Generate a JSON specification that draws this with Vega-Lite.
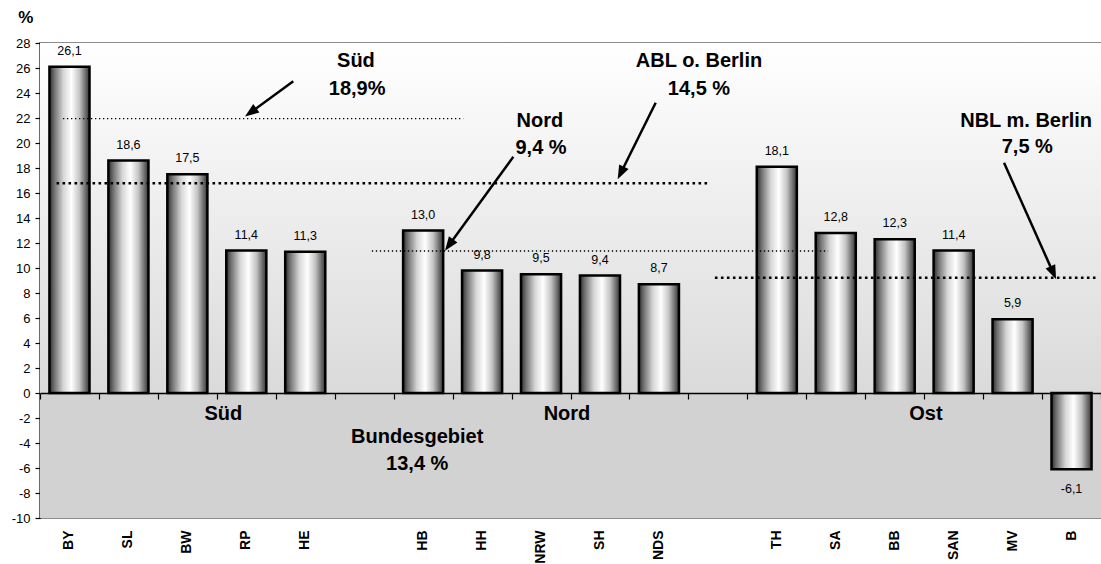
{
  "$schema": "https://vega.github.io/schema/vega-lite/v6.json",
  "width": 1061,
  "height": 475,
  "autosize": {"type": "none"},
  "padding": {"left": 40, "top": 43, "right": 0, "bottom": 46},
  "background": "white",
  "config": {
    "locale": {"number": {"decimal": ",", "thousands": ".", "grouping": [3], "currency": ["", " €"], "minus": "-"}},
    "font": "Liberation Sans, Arial, sans-serif",
    "view": {"stroke": "#8c8c8c", "strokeWidth": 2},
    "axisY": {"domainColor": "black", "domainWidth": 1.5, "tickColor": "black", "tickSize": 5, "tickWidth": 1.2, "labelFontSize": 13, "labelColor": "black", "labelFont": "Liberation Sans, Arial, sans-serif", "grid": false, "tickCount": 19, "labelPadding": 5, "zindex": 2}
  },
  "datasets": {
    "laender": [
      {"land": "BY", "wert": 26.1}, {"land": "SL", "wert": 18.6}, {"land": "BW", "wert": 17.5},
      {"land": "RP", "wert": 11.4}, {"land": "HE", "wert": 11.3}, {"land": "HB", "wert": 13.0},
      {"land": "HH", "wert": 9.8}, {"land": "NRW", "wert": 9.5}, {"land": "SH", "wert": 9.4},
      {"land": "NDS", "wert": 8.7}, {"land": "TH", "wert": 18.1}, {"land": "SA", "wert": 12.8},
      {"land": "BB", "wert": 12.3}, {"land": "SAN", "wert": 11.4}, {"land": "MV", "wert": 5.9},
      {"land": "B", "wert": -6.1}
    ],
    "linien_duenn": [
      {"gruppe": "Süd", "y": 21.95, "von": 0.39, "bis": 7.18},
      {"gruppe": "Nord", "y": 11.36, "von": 5.63, "bis": 13.37}
    ],
    "linien_dick": [
      {"gruppe": "ABL o. Berlin", "y": 16.78, "von": 0.28, "bis": 11.33},
      {"gruppe": "NBL m. Berlin", "y": 9.22, "von": 11.45, "bis": 17.95}
    ],
    "pfeile": [
      {"pfeil": "Süd", "x": 4.297, "y": 24.94, "kx": 3.574, "ky": 22.45},
      {"pfeil": "ABL", "x": 10.445, "y": 23.22, "kx": 9.853, "ky": 17.6},
      {"pfeil": "Nord", "x": 8.03, "y": 18.9, "kx": 6.94, "ky": 11.84},
      {"pfeil": "NBL", "x": 16.355, "y": 18.42, "kx": 17.19, "ky": 9.61}
    ],
    "texte": [
      {"t": "Süd", "x": 5.36, "y": 26.1},
      {"t": "18,9%", "x": 5.38, "y": 23.84},
      {"t": "ABL o. Berlin", "x": 11.18, "y": 26.1},
      {"t": "14,5 %", "x": 11.18, "y": 23.84},
      {"t": "Nord", "x": 8.48, "y": 21.28},
      {"t": "9,4 %", "x": 8.5, "y": 19.12},
      {"t": "NBL m. Berlin", "x": 16.73, "y": 21.28},
      {"t": "7,5 %", "x": 16.75, "y": 19.2},
      {"t": "Süd", "x": 3.11, "y": -2.16},
      {"t": "Nord", "x": 8.94, "y": -2.16},
      {"t": "Ost", "x": 15.03, "y": -2.16},
      {"t": "Bundesgebiet", "x": 6.4, "y": -4.0},
      {"t": "13,4 %", "x": 6.4, "y": -6.16}
    ]
  },
  "layer": [
    {
      "layer": [
        {
          "data": {"values": [{}]},
          "mark": {"type": "rect", "fill": {"gradient": "linear", "x1": 0, "y1": 0, "x2": 0, "y2": 1, "stops": [{"offset": 0, "color": "#ffffff"}, {"offset": 1, "color": "#dadada"}]}},
          "encoding": {
            "y": {"datum": 28, "type": "quantitative", "title": null, "scale": {"domain": [-10, 28], "nice": false, "zero": false}},
            "y2": {"datum": 0}
          }
        },
        {
          "data": {"values": [{}]},
          "mark": {"type": "rect", "fill": "#d2d2d2"},
          "encoding": {
            "y": {"datum": 0, "type": "quantitative", "title": null, "scale": {"domain": [-10, 28], "nice": false, "zero": false}},
            "y2": {"datum": -10}
          }
        },
        {
          "data": {"name": "laender"},
          "mark": {
            "type": "bar",
            "width": {"band": 0.68},
            "stroke": "black",
            "strokeWidth": 2.5,
            "fill": {"gradient": "linear", "x1": 0, "y1": 0, "x2": 1, "y2": 0, "stops": [
              {"offset": 0, "color": "#2e2e2e"}, {"offset": 0.12, "color": "#707070"}, {"offset": 0.35, "color": "#d6d6d6"},
              {"offset": 0.55, "color": "#ffffff"}, {"offset": 0.75, "color": "#c4c4c4"}, {"offset": 0.92, "color": "#626262"},
              {"offset": 1, "color": "#333333"}]}
          },
          "encoding": {
            "x": {
              "field": "land", "type": "nominal", "sort": null,
              "scale": {"domain": ["BY", "SL", "BW", "RP", "HE", " ", "HB", "HH", "NRW", "SH", "NDS", "  ", "TH", "SA", "BB", "SAN", "MV", "B"], "paddingInner": 0, "paddingOuter": 0},
              "axis": {"orient": "bottom", "labelAngle": 270, "labelFontSize": 14, "labelFontWeight": "bold", "labelColor": "black", "labelFont": "Liberation Sans, Arial, sans-serif", "ticks": false, "tickSize": 0, "domain": false, "labelPadding": 12, "title": null, "grid": false}
            },
            "y": {"field": "wert", "type": "quantitative", "title": null, "scale": {"domain": [-10, 28], "nice": false, "zero": false}}
          }
        },
        {
          "data": {"name": "laender"},
          "transform": [{"filter": "datum.wert >= 0"}],
          "mark": {"type": "text", "dy": -12, "baseline": "alphabetic", "fontSize": 12.5, "color": "black"},
          "encoding": {
            "x": {
              "field": "land", "type": "nominal", "sort": null,
              "axis": {"orient": "bottom", "offset": -125, "labels": false, "ticks": true, "tickBand": "extent", "tickSize": 6, "tickColor": "black", "tickWidth": 1.2, "domain": true, "domainColor": "black", "domainWidth": 1.5, "title": null, "grid": false, "zindex": 2}
            },
            "y": {"field": "wert", "type": "quantitative", "title": null, "scale": {"domain": [-10, 28], "nice": false, "zero": false}},
            "text": {"field": "wert", "type": "quantitative", "format": ".1f"}
          }
        },
        {
          "data": {"name": "laender"},
          "transform": [{"filter": "datum.wert < 0"}],
          "mark": {"type": "text", "dy": 23.5, "baseline": "alphabetic", "fontSize": 12.5, "color": "black"},
          "encoding": {
            "x": {"field": "land", "type": "nominal", "sort": null, "axis": null},
            "y": {"field": "wert", "type": "quantitative", "title": null, "scale": {"domain": [-10, 28], "nice": false, "zero": false}},
            "text": {"field": "wert", "type": "quantitative", "format": ".1f"}
          }
        }
      ],
      "resolve": {"axis": {"x": "independent"}}
    },
    {
      "layer": [
        {
          "data": {"name": "linien_duenn"},
          "mark": {"type": "rule", "color": "black", "strokeWidth": 1.3, "strokeDash": [1.3, 2.7]},
          "encoding": {
            "x": {"field": "von", "type": "quantitative", "axis": null, "scale": {"domain": [0, 18], "nice": false, "zero": false}},
            "x2": {"field": "bis"},
            "y": {"field": "y", "type": "quantitative", "title": null, "scale": {"domain": [-10, 28], "nice": false, "zero": false}}
          }
        },
        {
          "data": {"name": "linien_dick"},
          "mark": {"type": "rule", "color": "black", "strokeWidth": 2.6, "strokeDash": [2.6, 3.4]},
          "encoding": {
            "x": {"field": "von", "type": "quantitative", "axis": null, "scale": {"domain": [0, 18], "nice": false, "zero": false}},
            "x2": {"field": "bis"},
            "y": {"field": "y", "type": "quantitative", "title": null, "scale": {"domain": [-10, 28], "nice": false, "zero": false}}
          }
        },
        {
          "data": {"name": "pfeile"},
          "mark": {"type": "rule", "color": "black", "strokeWidth": 2.5},
          "encoding": {
            "x": {"field": "x", "type": "quantitative", "axis": null, "scale": {"domain": [0, 18], "nice": false, "zero": false}},
            "x2": {"field": "kx"},
            "y": {"field": "y", "type": "quantitative", "title": null, "scale": {"domain": [-10, 28], "nice": false, "zero": false}},
            "y2": {"field": "ky"}
          }
        },
        {
          "data": {"name": "pfeile"},
          "transform": [{"filter": "datum.pfeil == 'Süd'"}],
          "mark": {"type": "point", "shape": "M0,-1L-0.75,1L0.75,1Z", "size": 196, "filled": true, "color": "black", "opacity": 1, "angle": 233.9},
          "encoding": {
            "x": {"field": "kx", "type": "quantitative", "axis": null, "scale": {"domain": [0, 18], "nice": false, "zero": false}},
            "y": {"field": "ky", "type": "quantitative", "title": null, "scale": {"domain": [-10, 28], "nice": false, "zero": false}}
          }
        },
        {
          "data": {"name": "pfeile"},
          "transform": [{"filter": "datum.pfeil == 'ABL'"}],
          "mark": {"type": "point", "shape": "M0,-1L-0.75,1L0.75,1Z", "size": 196, "filled": true, "color": "black", "opacity": 1, "angle": 206.4},
          "encoding": {
            "x": {"field": "kx", "type": "quantitative", "axis": null, "scale": {"domain": [0, 18], "nice": false, "zero": false}},
            "y": {"field": "ky", "type": "quantitative", "title": null, "scale": {"domain": [-10, 28], "nice": false, "zero": false}}
          }
        },
        {
          "data": {"name": "pfeile"},
          "transform": [{"filter": "datum.pfeil == 'Nord'"}],
          "mark": {"type": "point", "shape": "M0,-1L-0.75,1L0.75,1Z", "size": 196, "filled": true, "color": "black", "opacity": 1, "angle": 216.0},
          "encoding": {
            "x": {"field": "kx", "type": "quantitative", "axis": null, "scale": {"domain": [0, 18], "nice": false, "zero": false}},
            "y": {"field": "ky", "type": "quantitative", "title": null, "scale": {"domain": [-10, 28], "nice": false, "zero": false}}
          }
        },
        {
          "data": {"name": "pfeile"},
          "transform": [{"filter": "datum.pfeil == 'NBL'"}],
          "mark": {"type": "point", "shape": "M0,-1L-0.75,1L0.75,1Z", "size": 196, "filled": true, "color": "black", "opacity": 1, "angle": 156.0},
          "encoding": {
            "x": {"field": "kx", "type": "quantitative", "axis": null, "scale": {"domain": [0, 18], "nice": false, "zero": false}},
            "y": {"field": "ky", "type": "quantitative", "title": null, "scale": {"domain": [-10, 28], "nice": false, "zero": false}}
          }
        },
        {
          "data": {"name": "texte"},
          "mark": {"type": "text", "fontSize": 20, "fontWeight": "bold", "align": "center", "baseline": "alphabetic", "color": "black"},
          "encoding": {
            "x": {"field": "x", "type": "quantitative", "axis": null, "scale": {"domain": [0, 18], "nice": false, "zero": false}},
            "y": {"field": "y", "type": "quantitative", "title": null, "scale": {"domain": [-10, 28], "nice": false, "zero": false}},
            "text": {"field": "t", "type": "nominal"}
          }
        },
        {
          "data": {"values": [{"t": "%", "x": -0.24, "y": 29.6}]},
          "mark": {"type": "text", "fontSize": 17, "fontWeight": "bold", "align": "center", "baseline": "alphabetic", "color": "black"},
          "encoding": {
            "x": {"field": "x", "type": "quantitative", "axis": null, "scale": {"domain": [0, 18], "nice": false, "zero": false}},
            "y": {"field": "y", "type": "quantitative", "title": null, "scale": {"domain": [-10, 28], "nice": false, "zero": false}},
            "text": {"field": "t", "type": "nominal"}
          }
        }
      ]
    }
  ],
  "resolve": {"scale": {"x": "independent"}}
}
